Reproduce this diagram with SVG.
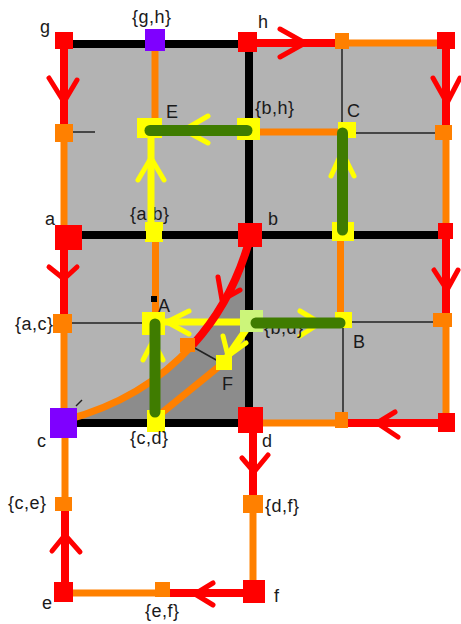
<svg xmlns="http://www.w3.org/2000/svg" width="461" height="624" viewBox="0 0 461 624">
<style>
.lbl{font-family:"Liberation Sans",Arial,sans-serif;font-size:18px;letter-spacing:0.5px;fill:#1a1a1a}
.thin{stroke:#222;stroke-width:1.5;fill:none}
.blk{stroke:#000;stroke-width:8;fill:none}
.red{stroke:#ff0000;stroke-width:8;fill:none}
.org{stroke:#ff8000;stroke-width:7;fill:none}
.ah{stroke:#ff0000;stroke-width:5;fill:none;stroke-linecap:round;stroke-linejoin:round}
.yl{stroke:#ffff00;stroke-width:7;fill:none}
.yah{stroke:#ffff00;stroke-width:5;fill:none;stroke-linecap:round;stroke-linejoin:round}
.grn{stroke:#3f7c00;stroke-width:11;fill:none;stroke-linecap:round}
.nr{fill:#ff0000}.no{fill:#ff8000}.ny{fill:#ffff00}.np{fill:#7f00ff}.nl{fill:#ccf57a}
</style>
<!-- background regions -->
<rect x="64" y="41" width="382" height="382" fill="#b3b3b3"/>
<path d="M66,420 C160,395 225,330 250,238 L249,423 L66,423 Z" fill="#8c8c8c"/>
<g id="ab"><rect class="ny" x="145" y="222" width="18" height="20"/><text class="lbl" x="130" y="220">{a,b}</text></g>
<g id="connectors">
  <!-- thin grid lines -->
  <line class="thin" x1="73" y1="132" x2="95" y2="132"/>
  <line class="thin" x1="342" y1="43" x2="342" y2="130"/>
  <line class="thin" x1="342" y1="133" x2="443" y2="133"/>
  <line class="thin" x1="64" y1="323" x2="145" y2="323"/>
  <line class="thin" x1="343" y1="322" x2="443" y2="322"/>
  <line class="thin" x1="343" y1="320" x2="343" y2="422"/>
  <line class="thin" x1="193" y1="347" x2="218" y2="361"/>
  <line class="thin" x1="76" y1="406" x2="82" y2="400"/>
  <!-- black thick lines -->
  <line class="blk" x1="64" y1="44" x2="249" y2="44"/>
  <line class="blk" x1="249" y1="44" x2="249" y2="424"/>
  <line class="blk" x1="64" y1="235" x2="146" y2="235"/>
  <line class="blk" x1="162" y1="235" x2="446" y2="235"/>
  <line class="blk" x1="64" y1="423" x2="249" y2="423"/>
  <!-- outer edges -->
  <line class="red" x1="248" y1="43" x2="342" y2="43"/>
  <polyline class="ah" points="280,29 305,43 280,57"/>
  <line class="org" x1="342" y1="43" x2="446" y2="43"/>
  <line class="red" x1="64" y1="42" x2="64" y2="133"/>
  <polyline class="ah" points="49,78 64,102 77,80"/>
  <line class="org" x1="64" y1="133" x2="64" y2="236"/>
  <line class="red" x1="64" y1="236" x2="64" y2="323"/>
  <polyline class="ah" points="49,267 64,279 77,267"/>
  <line class="org" x1="64" y1="323" x2="64" y2="423"/>
  <line class="org" x1="65" y1="423" x2="65" y2="504"/>
  <line class="red" x1="65" y1="504" x2="65" y2="592"/>
  <polyline class="ah" points="52,551 65,535 80,552"/>
  <line class="red" x1="446" y1="42" x2="446" y2="133"/>
  <polyline class="ah" points="433,78 447,103 460,78"/>
  <line class="org" x1="446" y1="133" x2="446" y2="235"/>
  <line class="red" x1="446" y1="235" x2="446" y2="320"/>
  <polyline class="ah" points="434,270 447,290 458,270"/>
  <line class="org" x1="446" y1="320" x2="446" y2="422"/>
  <line class="org" x1="250" y1="423" x2="342" y2="423"/>
  <line class="red" x1="342" y1="423" x2="446" y2="423"/>
  <polyline class="ah" points="395,412 377,423 398,437"/>
  <line class="red" x1="253" y1="423" x2="253" y2="504"/>
  <polyline class="ah" points="242,458 254,472 268,455"/>
  <line class="org" x1="253" y1="504" x2="253" y2="592"/>
  <line class="org" x1="65" y1="593" x2="162" y2="593"/>
  <line class="red" x1="162" y1="593" x2="254" y2="593"/>
  <polyline class="ah" points="213,583 195,594 213,605"/>
  <!-- inner orange edges -->
  <line class="org" x1="155" y1="42" x2="155" y2="120"/>
  <line class="org" x1="155.5" y1="242" x2="155.5" y2="315"/>
  <line class="org" stroke-width="8" x1="248" y1="132" x2="342" y2="132"/>
  <line class="org" x1="340.5" y1="232" x2="340.5" y2="315"/>
  <line class="org" stroke-width="8" x1="158" y1="416" x2="222" y2="364"/>
  <!-- yellow arrows -->
  <line class="yl" x1="151" y1="226" x2="151" y2="136"/>
  <polyline class="yah" points="138,180 151,158 164,180"/>
  <line class="yl" x1="343" y1="232" x2="343" y2="132"/>
  <polyline class="yah" points="331,176 342,152 354,176"/>
  <line class="yl" x1="248" y1="130" x2="150" y2="130"/>
  <polyline class="yah" points="208,116 184,130 208,143"/>
  <line class="yl" x1="155" y1="420" x2="155" y2="323"/>
  <polyline class="yah" points="143,360 153,341 163,360"/>
  <line class="yl" x1="250" y1="322" x2="155" y2="322"/>
  <polyline class="yah" points="189,311 167,322 189,334"/>
  <line class="yl" x1="252" y1="323" x2="340" y2="323"/>
  <polyline class="yah" points="300,311 320,323 300,336"/>
  <line class="yl" x1="248" y1="327" x2="225" y2="360"/>
  <polyline class="yah" points="223,336 228,356 246,343"/>
  <!-- curve c-b -->
  <path class="org" stroke-width="10" d="M66,420 C117.7,406.25 160.6,380.4 193,344.6"/>
  <path class="red" stroke-width="10" d="M193,344.6 C219.4,315.3 238.75,279.4 250,238"/>
  <polyline class="ah" points="218,277 222,300 240,290"/>
</g>
<g id="nodes">
  <g id="g"><rect class="nr" x="55" y="32" width="18" height="17"/><text class="lbl" x="40" y="33">g</text></g>
  <g id="gh"><rect class="np" x="145" y="29" width="20" height="22"/><text class="lbl" x="132" y="23">{g,h}</text></g>
  <g id="h"><rect class="nr" x="238" y="32" width="19" height="20"/><text class="lbl" x="258" y="28">h</text></g>
  <g id="top-mid"><rect class="no" x="335" y="33" width="14" height="16"/></g>
  <g id="top-right"><rect class="nr" x="437" y="32" width="18" height="17"/></g>
  <g id="left-E"><rect class="no" x="55" y="124" width="18" height="18"/></g>
  <g id="E"><rect class="ny" x="137" y="118" width="25" height="20"/><text class="lbl" x="166" y="118">E</text></g>
  <g id="bh"><rect class="ny" x="237" y="118" width="23" height="22"/><text class="lbl" x="255" y="114">{b,h}</text></g>
  <g id="C"><rect class="ny" x="338" y="122" width="18" height="16"/><text class="lbl" x="347" y="117">C</text></g>
  <g id="right-E"><rect class="no" x="435" y="125" width="17" height="15"/></g>
  <g id="a"><rect class="nr" x="55" y="225" width="27" height="25"/><text class="lbl" x="45" y="225">a</text></g>
  <g id="b"><rect class="nr" x="238" y="223" width="24" height="24"/><text class="lbl" x="268" y="225">b</text></g>
  <g id="mid-C"><rect class="ny" x="332" y="222" width="22" height="19"/></g>
  <g id="right-b"><rect class="nr" x="438" y="223" width="15" height="16"/></g>
  <g id="ac"><rect class="no" x="53" y="314" width="19" height="19"/><text class="lbl" x="15" y="330">{a,c}</text></g>
  <g id="A"><text class="lbl" x="158" y="312">A</text><rect x="151" y="296" width="6" height="6" fill="#000"/><rect class="ny" x="142" y="312" width="23" height="23"/></g>
  <g id="bd"><rect class="nl" x="240" y="310" width="23" height="22"/><text class="lbl" x="264" y="334" font-size="14">{b,d}</text></g>
  <g id="B"><rect class="ny" x="335" y="312" width="17" height="16"/><text class="lbl" x="353" y="348">B</text></g>
  <g id="right-B"><rect class="no" x="433" y="313" width="19" height="14"/></g>
  <g id="cb-mid"><rect class="no" x="180" y="338" width="15" height="14"/></g>
  <g id="F"><rect class="ny" x="216" y="355" width="16" height="15"/><text class="lbl" x="222" y="390">F</text></g>
  <g id="c"><rect class="np" x="50" y="408" width="27" height="30"/><text class="lbl" x="37" y="447">c</text></g>
  <g id="cd"><rect class="ny" x="147" y="410" width="18" height="22"/><text class="lbl" x="130" y="444">{c,d}</text></g>
  <g id="d"><rect class="nr" x="238" y="407" width="25" height="26"/><text class="lbl" x="262" y="447">d</text></g>
  <g id="bottom-mid"><rect class="no" x="335" y="412" width="13" height="16"/></g>
  <g id="bottom-right"><rect class="nr" x="438" y="413" width="17" height="19"/></g>
  <g id="ce"><rect class="no" x="55" y="497" width="17" height="14"/><text class="lbl" x="8" y="509">{c,e}</text></g>
  <g id="df"><rect class="no" x="243" y="495" width="20" height="18"/><text class="lbl" x="265" y="512">{d,f}</text></g>
  <g id="e"><rect class="nr" x="54" y="582" width="19" height="20"/><text class="lbl" x="42" y="609">e</text></g>
  <g id="ef"><rect class="no" x="155" y="582" width="15" height="15"/><text class="lbl" x="145" y="617">{e,f}</text></g>
  <g id="f"><rect class="nr" x="243" y="580" width="22" height="23"/><text class="lbl" x="274" y="602">f</text></g>
</g>
<g id="bars">
  <line class="grn" x1="150" y1="130.5" x2="247" y2="130.5"/>
  <line class="grn" x1="342.5" y1="133" x2="342.5" y2="230"/>
  <line class="grn" stroke-width="12" x1="155" y1="324" x2="155" y2="412"/>
  <line class="grn" x1="256" y1="323" x2="340" y2="323"/>
</g>
</svg>
